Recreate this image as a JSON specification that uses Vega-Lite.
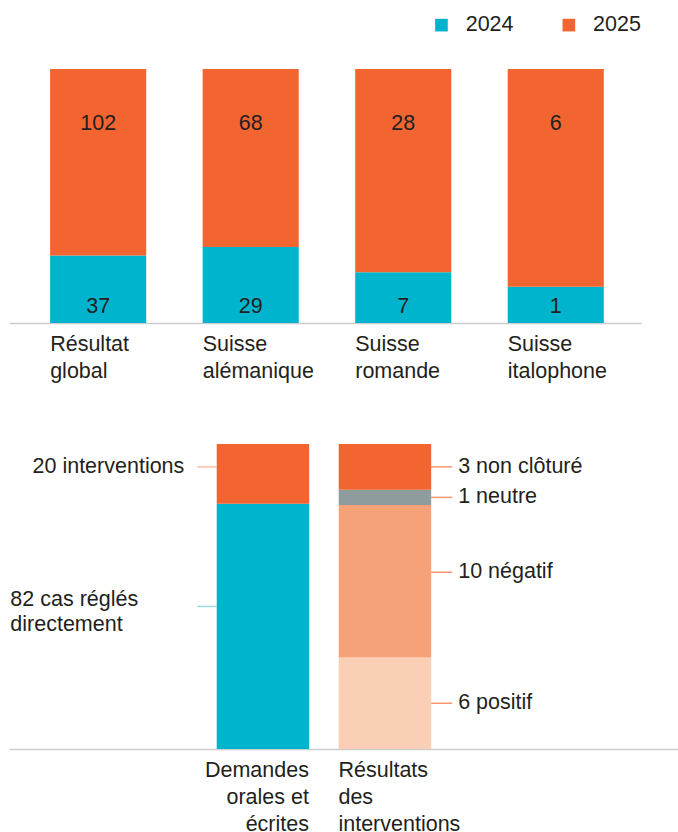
{
  "$schema": "https://vega.github.io/schema/vega-lite/v6.json",
  "padding": {"left": 9, "top": 14, "right": 0, "bottom": 0},
  "background": "white",
  "config": {
    "view": {"stroke": null},
    "font": "Liberation Sans",
    "axis": {"labelFont": "Liberation Sans", "labelFontSize": 21.5, "labelColor": "#231f20", "domainColor": "#cccccc", "domainWidth": 1.5, "ticks": false, "grid": false, "title": null},
    "text": {"font": "Liberation Sans", "fontSize": 21.5, "color": "#231f20"}
  },
  "datasets": {
    "regions": [
      {"region": "Résultat global", "year": "2024", "value": 37},
      {"region": "Résultat global", "year": "2025", "value": 102},
      {"region": "Suisse alémanique", "year": "2024", "value": 29},
      {"region": "Suisse alémanique", "year": "2025", "value": 68},
      {"region": "Suisse romande", "year": "2024", "value": 7},
      {"region": "Suisse romande", "year": "2025", "value": 28},
      {"region": "Suisse italophone", "year": "2024", "value": 1},
      {"region": "Suisse italophone", "year": "2025", "value": 6}
    ],
    "cases": [
      {"bar": "Demandes orales et écrites", "cat": "direct", "label": "82 cas réglés\ndirectement", "value": 82, "rank": 1},
      {"bar": "Demandes orales et écrites", "cat": "interventions", "label": "20 interventions", "value": 20, "rank": 2},
      {"bar": "Résultats des interventions", "cat": "positif", "label": "6 positif", "value": 6, "rank": 1},
      {"bar": "Résultats des interventions", "cat": "négatif", "label": "10 négatif", "value": 10, "rank": 2},
      {"bar": "Résultats des interventions", "cat": "neutre", "label": "1 neutre", "value": 1, "rank": 3},
      {"bar": "Résultats des interventions", "cat": "non clôturé", "label": "3 non clôturé", "value": 3, "rank": 4}
    ]
  },
  "resolve": {"scale": {"color": "independent", "x": "independent", "y": "independent"}, "legend": {"color": "independent"}},
  "spacing": 62,
  "vconcat": [
    {
      "width": 632,
      "height": 254,
      "data": {"name": "regions"},
      "transform": [
        {"stack": "value", "groupby": ["region"], "sort": [{"field": "year", "order": "ascending"}], "offset": "normalize", "as": ["y0", "y1"]}
      ],
      "encoding": {
        "x": {
          "field": "region", "type": "nominal", "sort": null,
          "scale": {"paddingInner": 0.37, "paddingOuter": 0.2567, "align": 0.525},
          "axis": {"labelAlign": "left", "labelOffset": -48, "labelExpr": "split(datum.value, ' ')", "labelLineHeight": 27, "labelPadding": 10, "labelAngle": 0}
        }
      },
      "layer": [
        {
          "mark": {"type": "bar"},
          "encoding": {
            "y": {"field": "y0", "type": "quantitative", "scale": {"domain": [0, 1], "nice": false}, "axis": null},
            "y2": {"field": "y1"},
            "color": {
              "field": "year", "type": "nominal",
              "scale": {"domain": ["2024", "2025"], "range": ["#00b4cd", "#f26531"]},
              "legend": {"orient": "none", "legendX": 421.7, "legendY": -55, "direction": "horizontal", "title": null,
                         "symbolType": "square", "symbolSize": 160, "symbolStrokeWidth": 0, "labelFont": "Liberation Sans",
                         "labelFontSize": 21.5, "labelColor": "#231f20", "labelOffset": 13.5, "columnPadding": 44.4, "padding": 0}
            }
          }
        },
        {
          "transform": [{"filter": "datum.year == '2025'"}],
          "mark": {"type": "text", "dy": 55, "baseline": "middle"},
          "encoding": {"y": {"datum": 1, "type": "quantitative"}, "text": {"field": "value", "type": "quantitative"}}
        },
        {
          "transform": [{"filter": "datum.year == '2024'"}],
          "mark": {"type": "text", "dy": -16, "baseline": "middle"},
          "encoding": {"y": {"datum": 0, "type": "quantitative"}, "text": {"field": "value", "type": "quantitative"}}
        }
      ]
    },
    {
      "width": 669,
      "height": 305,
      "data": {"name": "cases"},
      "transform": [
        {"stack": "value", "groupby": ["bar"], "sort": [{"field": "rank", "order": "ascending"}], "offset": "normalize", "as": ["y0", "y1"]},
        {"calculate": "(datum.y0 + datum.y1) / 2", "as": "ymid"}
      ],
      "encoding": {
        "x": {
          "field": "bar", "type": "nominal", "sort": null,
          "scale": {"domain": ["_a", "Demandes orales et écrites", "Résultats des interventions", "_b", "_c"], "paddingInner": 0.242, "paddingOuter": 0.363, "align": 0.968},
          "axis": {
            "labelExpr": "indexof(datum.value, '_') == 0 ? '' : datum.value == 'Demandes orales et écrites' ? ['Demandes', 'orales et', 'écrites'] : split(datum.value, ' ')",
            "labelAlign": {"condition": {"test": "datum.value == 'Demandes orales et écrites'", "value": "right"}, "value": "left"},
            "labelOffset": {"condition": {"test": "datum.value == 'Demandes orales et écrites'", "value": 46}, "value": -46.5},
            "labelLineHeight": 27, "labelPadding": 10, "labelAngle": 0
          }
        }
      },
      "layer": [
        {
          "mark": {"type": "bar"},
          "encoding": {
            "y": {"field": "y0", "type": "quantitative", "scale": {"domain": [0, 1], "nice": false}, "axis": null},
            "y2": {"field": "y1"},
            "color": {
              "field": "cat", "type": "nominal", "legend": null,
              "scale": {"domain": ["direct", "interventions", "positif", "négatif", "neutre", "non clôturé"],
                        "range": ["#00b4cd", "#f26531", "#fbcfb5", "#f6a178", "#8e9c9e", "#f26531"]}
            }
          }
        },
        {
          "transform": [{"filter": "datum.bar == 'Résultats des interventions' && datum.cat != 'négatif'"}],
          "mark": {"type": "tick", "orient": "horizontal", "size": 21, "thickness": 1.5, "xOffset": 56.7, "color": "#f26a3a"},
          "encoding": {"x": {"field": "bar", "type": "nominal"}, "y": {"field": "ymid", "type": "quantitative"}}
        },
        {
          "transform": [{"filter": "datum.bar == 'Résultats des interventions' && datum.cat != 'négatif'"}],
          "mark": {"type": "text", "align": "left", "baseline": "middle", "dx": 27},
          "encoding": {"x": {"field": "bar", "type": "nominal", "bandPosition": 1}, "y": {"field": "ymid", "type": "quantitative"}, "text": {"field": "label"}}
        },
        {
          "transform": [{"filter": "datum.cat == 'négatif'"}],
          "mark": {"type": "tick", "orient": "horizontal", "size": 21, "thickness": 1.5, "xOffset": 56.7, "yOffset": -9, "color": "#f26a3a"},
          "encoding": {"x": {"field": "bar", "type": "nominal"}, "y": {"field": "ymid", "type": "quantitative"}}
        },
        {
          "transform": [{"filter": "datum.cat == 'négatif'"}],
          "mark": {"type": "text", "align": "left", "baseline": "middle", "dx": 27, "dy": -9},
          "encoding": {"x": {"field": "bar", "type": "nominal", "bandPosition": 1}, "y": {"field": "ymid", "type": "quantitative"}, "text": {"field": "label"}}
        },
        {
          "transform": [{"filter": "datum.cat == 'interventions'"}],
          "mark": {"type": "tick", "orient": "horizontal", "size": 19.5, "thickness": 1.5, "xOffset": -56, "yOffset": -7, "color": "#f7a585"},
          "encoding": {"x": {"field": "bar", "type": "nominal"}, "y": {"field": "ymid", "type": "quantitative"}}
        },
        {
          "transform": [{"filter": "datum.cat == 'interventions'"}],
          "mark": {"type": "text", "align": "right", "baseline": "middle", "dx": -32.4, "dy": -7},
          "encoding": {"x": {"field": "bar", "type": "nominal", "bandPosition": 0}, "y": {"field": "ymid", "type": "quantitative"}, "text": {"field": "label"}}
        },
        {
          "transform": [{"filter": "datum.cat == 'direct'"}],
          "mark": {"type": "tick", "orient": "horizontal", "size": 19.5, "thickness": 1.5, "xOffset": -56, "yOffset": -20, "color": "#6fd0e0"},
          "encoding": {"x": {"field": "bar", "type": "nominal"}, "y": {"field": "ymid", "type": "quantitative"}}
        },
        {
          "transform": [{"filter": "datum.cat == 'direct'"}],
          "mark": {"type": "text", "align": "left", "baseline": "middle", "dx": -206.4, "dy": -26, "lineBreak": "\n", "lineHeight": 25},
          "encoding": {"x": {"field": "bar", "type": "nominal", "bandPosition": 0}, "y": {"field": "ymid", "type": "quantitative"}, "text": {"field": "label"}}
        }
      ]
    }
  ]
}
